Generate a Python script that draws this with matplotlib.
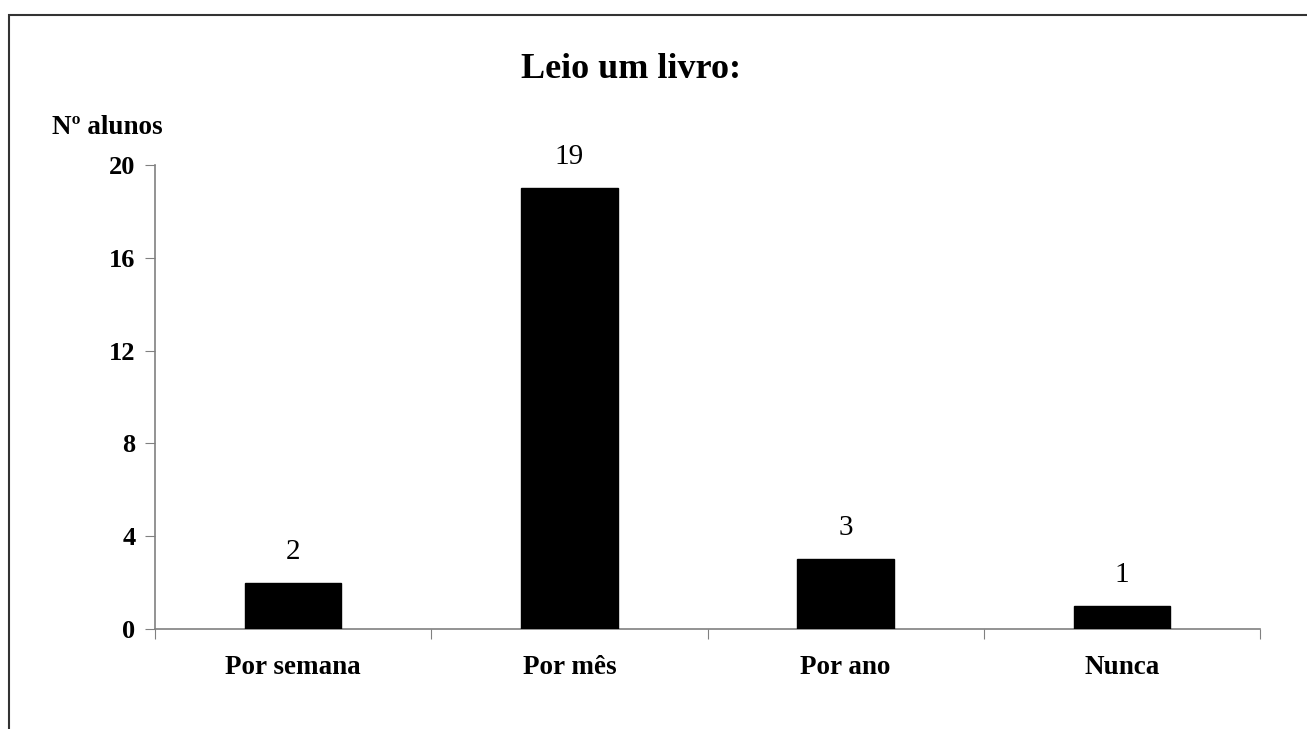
import matplotlib.pyplot as plt
from matplotlib.patches import Rectangle

plt.rc('font', family='Liberation Serif')

categorias = ['Por semana', 'Por mês', 'Por ano', 'Nunca']
alunos = [2, 19, 3, 1]
y_ticks = [0, 4, 8, 12, 16, 20]

fig = plt.figure(figsize=(13.07, 7.29), dpi=100)
ax = fig.add_axes([0.1186, 0.1372, 0.8455, 0.6365])

x = range(len(categorias))
ax.bar(x, alunos, width=0.35, color='black', edgecolor='black', zorder=3)

# valores por cima das barras
for xi, v in zip(x, alunos):
    ax.annotate(str(v), (xi, v), xytext=(0, 13), textcoords='offset points',
                ha='center', va='bottom', fontsize=21)

ax.set_xlim(-0.5, len(categorias) - 0.5)
ax.set_ylim(0, 20)
ax.set_yticks(y_ticks)
ax.set_yticklabels([str(t) for t in y_ticks], fontsize=19, fontweight='bold')

# marcas nas divisões, rótulos no centro
ax.set_xticks([i - 0.5 for i in range(len(categorias) + 1)])
ax.set_xticklabels([])
ax.set_xticks(list(x), minor=True)
ax.set_xticklabels(categorias, minor=True, fontsize=19.5, fontweight='bold')
ax.tick_params(axis='x', which='minor', length=0, pad=19)
ax.tick_params(axis='x', which='major', length=7, direction='out', color='#808080')
ax.tick_params(axis='y', length=7, color='#808080', pad=7)

for s in ['top', 'right']:
    ax.spines[s].set_visible(False)
for s in ['left', 'bottom']:
    ax.spines[s].set_color('#808080')
    ax.spines[s].set_linewidth(1.2)

fig.text(0.483, 0.905, 'Leio um livro:', ha='center', va='center',
         fontsize=26, fontweight='bold')
fig.text(0.04, 0.825, 'Nº alunos', ha='left', va='center',
         fontsize=19.5, fontweight='bold')

# moldura do gráfico
fig.patches.append(Rectangle((9 / 1307, -0.1), 1.2, 1 - 15 / 729 + 0.1,
                             transform=fig.transFigure, fill=False,
                             edgecolor='#333333', linewidth=1.5))

fig.savefig('out.png', dpi=100)
